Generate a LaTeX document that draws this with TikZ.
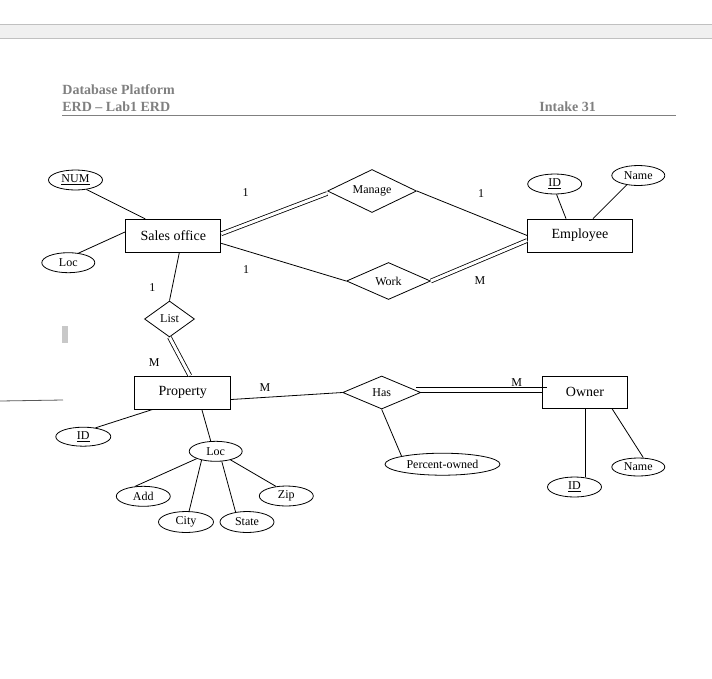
\documentclass[tikz,border=0pt]{standalone}
\usepackage{fontspec}
\setmainfont{Liberation Serif}
\usetikzlibrary{shapes.geometric,calc}
\definecolor{band}{HTML}{F0F0F0}
\definecolor{bandline}{HTML}{C0C0C0}
\definecolor{hdr}{HTML}{808080}
\definecolor{cursor}{HTML}{C8C8C8}
\tikzset{
  entity/.style={draw, rectangle, inner sep=0pt, font=\fontsize{14}{16}\selectfont},
  attr/.style={draw, ellipse, inner sep=0pt, minimum width=54pt, minimum height=20pt, font=\fontsize{12}{14}\selectfont},
  rel/.style={draw, diamond, aspect=2, inner sep=0pt, font=\fontsize{12}{14}\selectfont},
  card/.style={inner sep=0pt, font=\fontsize{12}{14}\selectfont},
  hdrtext/.style={inner sep=0pt, anchor=base west, text=hdr, font=\fontsize{14}{16}\selectfont\bfseries},
  dbl/.style={double, double distance=3pt},
}
\begin{document}
\begin{tikzpicture}[x=1pt, y=-1pt, line width=0.8pt]
\useasboundingbox (0,0) rectangle (712,678);
\fill[white] (0,0) rectangle (712,678);
% top band
\fill[band] (0,24.3) rectangle (712,38.3);
\draw[bandline, line width=1pt] (0,24.3) -- (712,24.3);
\draw[bandline, line width=1pt] (0,38.3) -- (712,38.3);
% header
\node[hdrtext] (h1) at (62,94) {Database Platform};
\node[hdrtext] (h2) at (62,111) {ERD – Lab1 ERD};
\node[hdrtext] (h3) at (539,111) {Intake 31};
\draw[hdr, line width=1pt] (62,115) -- (676,115);
% stray marks
\fill[cursor] (62,326) rectangle (68,343);
\coordinate (s1) at (0,401);
\coordinate (s2) at (63,400);
\draw[black!65] (s1) -- (s2);

% entities
\node[entity, minimum width=95pt, minimum height=33pt] (sales) at (173.3,235.8) {Sales office};
\node[entity, minimum width=105pt, minimum height=33pt] (employee) at (580,235.5) {Employee};
\node[entity, minimum width=96pt, minimum height=33pt] (property) at (182.8,392.5) {Property};
\node[entity, minimum width=85pt, minimum height=32pt] (owner) at (585,392.2) {Owner};

% relationships
\node[rel, minimum width=89pt, minimum height=43pt] (manage) at (372,191) {Manage};
\node[rel, minimum width=84pt, minimum height=37pt] (work) at (388.5,281) {Work};
\node[rel, minimum width=50pt, minimum height=36pt] (list) at (169.5,319) {List};
\node[rel, minimum width=78pt, minimum height=33pt] (has) at (381.7,392.5) {Has};

% attributes
\node[attr] (num) at (75.5,180) {\underline{NUM}};
\node[attr, minimum width=53pt] (locS) at (68.3,262.7) {Loc};
\node[attr] (idE) at (554.7,184) {\underline{ID}};
\node[attr, minimum width=53pt] (nameE) at (638.3,175.5) {Name};
\node[attr, minimum width=55pt, minimum height=19pt] (idP) at (83.3,436.7) {\underline{ID}};
\node[attr, minimum width=53pt] (locP) at (215.7,451.3) {Loc};
\node[attr] (add) at (143.3,496.3) {Add};
\node[attr, minimum width=55pt, minimum height=21pt] (city) at (186,522) {City};
\node[attr, minimum height=21pt] (state) at (247,522) {State};
\node[attr] (zip) at (286.3,496) {Zip};
\node[attr, minimum width=115pt, minimum height=22pt] (pct) at (442.5,464.2) {Percent-owned};
\node[attr] (idO) at (574.5,487) {\underline{ID}};
\node[attr, minimum width=53pt, minimum height=18pt] (nameO) at (638.3,467) {Name};

% cardinalities
\node[card] (c1) at (245.7,192.7) {1};
\node[card] (c2) at (481,193.3) {1};
\node[card] (c3) at (246,269.5) {1};
\node[card] (c4) at (480,280.7) {M};
\node[card] (c5) at (152.3,287.7) {1};
\node[card] (c6) at (154.3,363) {M};
\node[card] (c7) at (265,388) {M};
\node[card] (c8) at (516.7,383) {M};

% connectors
\draw (num.-41) -- ([xshift=-28pt]sales.north);
\draw (locS.43) -- ([yshift=4pt]sales.west);
\draw[dbl] ([yshift=2pt]sales.east) -- ([yshift=-2.5pt]manage.west);
\draw (manage.east) -- (employee.west);
\draw ([yshift=-7.5pt]sales.east) -- (work.west);
\draw[dbl] (work.east) -- ([yshift=-5pt]employee.west);
\draw ([xshift=-14pt]employee.north) -- (idE.-80);
\draw ([xshift=13pt]employee.north) -- (nameE.219);
\draw ([xshift=6pt]sales.south) -- (list.north);
\draw[dbl] (list.south) -- ([xshift=7pt]property.north);
\draw ([yshift=-7pt]property.east) -- (has.west);
\draw (has.east) -- (has.east -| owner.west);
\draw ($(has.east)+(-5,-5)$) -- ($(has.east -| owner.west)+(5,-5)$);
\draw (has.south) -- (pct.north west);
\draw (owner.south) -- (owner.south |- idO.north);
\draw ([xshift=27pt]owner.south) -- ([xshift=5pt]nameO.north);
\draw ([xshift=-30pt]property.south) -- (idP.36);
\draw ([xshift=19pt]property.south) -- ([xshift=-5pt]locP.north);
\draw (locP.south west) -- (add.130);
\draw (locP.212) -- (city.74);
\draw (locP.301) -- (state.139);
\draw (locP.330) -- (zip.137);
\end{tikzpicture}
\end{document}
